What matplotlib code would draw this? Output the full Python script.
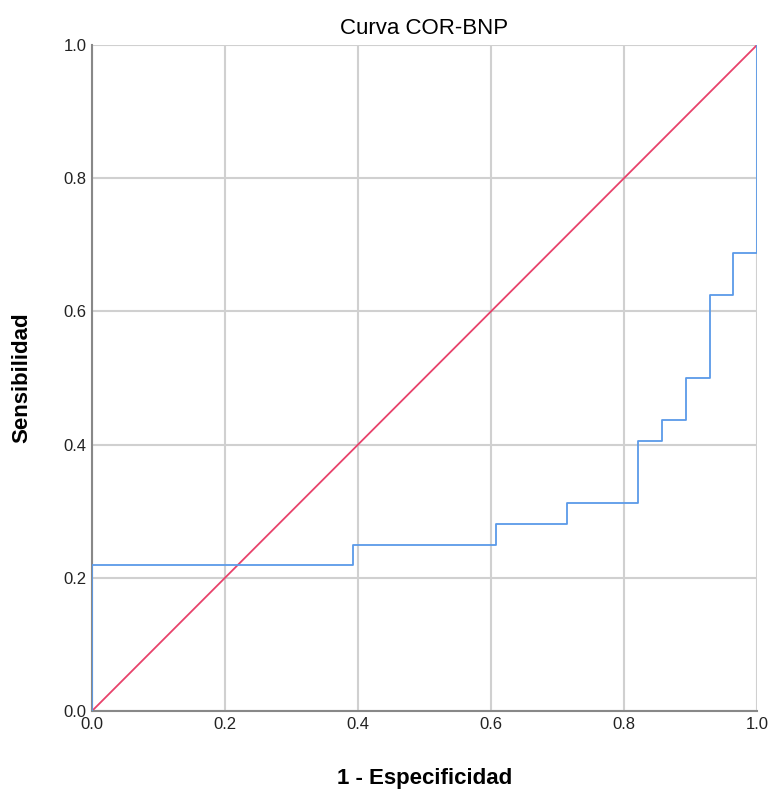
import matplotlib
matplotlib.use("Agg")
import matplotlib.pyplot as plt

fpr = [0.0, 0.0, 0.393, 0.393, 0.607, 0.607, 0.714, 0.714, 0.821, 0.821,
       0.857, 0.857, 0.893, 0.893, 0.929, 0.929, 0.964, 0.964, 1.0, 1.0]
tpr = [0.0, 0.219, 0.219, 0.250, 0.250, 0.281, 0.281, 0.3125, 0.3125, 0.406,
       0.406, 0.4375, 0.4375, 0.500, 0.500, 0.625, 0.625, 0.6875, 0.6875, 1.0]
ref = [0.0, 1.0]
ticks = [0.0, 0.2, 0.4, 0.6, 0.8, 1.0]
tick_labels = ["0.0", "0.2", "0.4", "0.6", "0.8", "1.0"]

plt.rcParams['font.family'] = ['Liberation Sans', 'DejaVu Sans']
fig = plt.figure(figsize=(7.7, 7.9), dpi=100)
ax = fig.add_axes([92/770, 1-711/790, (757-92)/770, (711-45)/790])

for t in ticks:
    ax.axvline(t, color='#d0d0d0', lw=1.5, zorder=0)
    ax.axhline(t, color='#d0d0d0', lw=1.5, zorder=0)

ax.plot(ref, ref, color='#e8426b', lw=1.3, zorder=2)
ax.plot(fpr, tpr, color='#5b9ae8', lw=1.3, zorder=3)

ax.set_xlim(0, 1)
ax.set_ylim(0, 1)
ax.set_xticks(ticks)
ax.set_xticklabels(tick_labels)
ax.set_yticks(ticks)
ax.set_yticklabels(tick_labels)
ax.tick_params(length=0, labelsize=12, colors='#222222', pad=4)
for s in ['top', 'right']:
    ax.spines[s].set_visible(False)
for s in ['left', 'bottom']:
    ax.spines[s].set_color('#888888')
    ax.spines[s].set_linewidth(1.5)

ax.set_title("Curva COR-BNP", fontsize=16, pad=8, fontweight='medium')
ax.set_xlabel("1 - Especificidad", fontsize=16, fontweight='bold', labelpad=26)
ax.set_ylabel("Sensibilidad", fontsize=16, fontweight='bold', labelpad=22)

fig.savefig("out.png", dpi=100)
